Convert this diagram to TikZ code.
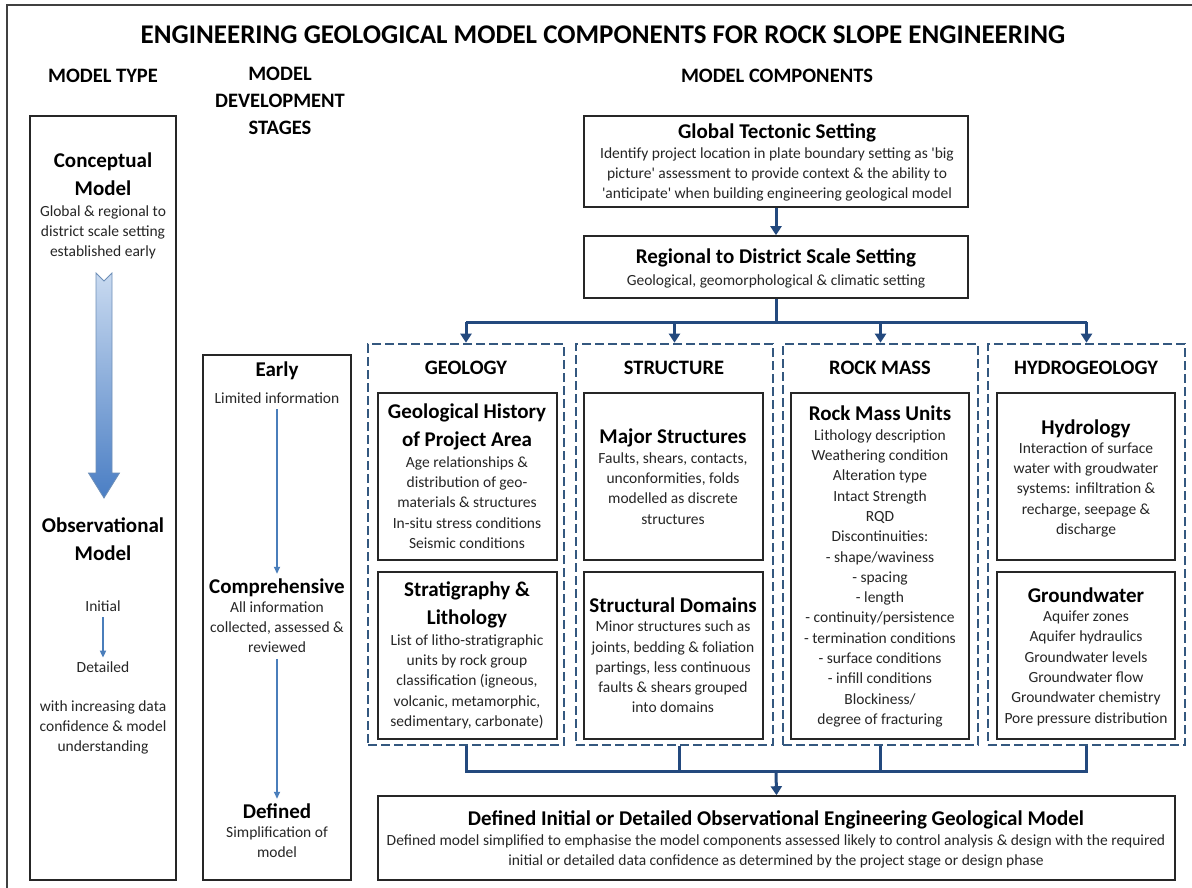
\documentclass[tikz,border=0pt]{standalone}
\usepackage{fontspec}
\setmainfont{Carlito}
\usetikzlibrary{arrows.meta}
\definecolor{conn}{HTML}{23497E}
\definecolor{dashc}{HTML}{34587F}
\definecolor{stagec}{HTML}{4A7EBB}
\definecolor{txt}{HTML}{262626}
\definecolor{atop}{HTML}{C9DAF0}
\definecolor{abot}{HTML}{4A7EC4}
\definecolor{aedge}{HTML}{6E8FB8}
\newcommand{\sq}{\textquotesingle}
\tikzset{
  bx/.style={draw=black!85, line width=1.6pt, inner sep=0pt},
  dbx/.style={draw=dashc, line width=2.6pt, dash pattern=on 9pt off 4pt, inner sep=0pt},
  hd/.style={font=\bfseries\fontsize{21}{28}\selectfont, align=center, inner sep=0pt, text=black,
    execute at begin node=\strut, execute at end node=\strut},
  bd/.style={font=\fontsize{15.5}{20.3}\selectfont, align=center, inner sep=0pt, text=txt,
    execute at begin node=\strut, execute at end node=\strut},
  captxt/.style={font=\bfseries\fontsize{20.5}{27}\selectfont, align=center, inner sep=0pt, text=black,
    execute at begin node=\strut, execute at end node=\strut},
  conline/.style={draw=conn, line width=3pt},
  conarr/.style={draw=conn, line width=3pt, -{Triangle[length=9pt,width=11pt]}},
  stagearr/.style={draw=stagec, line width=1.6pt, -{Triangle[length=7pt,width=6pt]}},
}
\begin{document}
\begin{tikzpicture}[x=1pt,y=-1pt]
\useasboundingbox (0,0) rectangle (1192,888);
\fill[white] (0,0) rectangle (1192,888);
% outer frame
\draw[black!75, line width=1.6pt] (7,888) -- (7,5) -- (1192,5);

% headers
\node[font=\bfseries\fontsize{27}{30}\selectfont, inner sep=0pt] (title) at (603,35) {ENGINEERING GEOLOGICAL MODEL COMPONENTS FOR ROCK SLOPE ENGINEERING};
\node[captxt] (mt) at (103,77) {MODEL TYPE};
\node[captxt] (mds) at (280,105) {MODEL\\DEVELOPMENT\\STAGES};
\node[captxt] (mc) at (777,77) {MODEL COMPONENTS};

% model type column
\node[bx, minimum width=146, minimum height=764] (typebox) at (103,498) {};
\node[hd] (concept) at (103,178) {Conceptual\\Model};
\node[bd] (concdesc) at (103,234) {Global \& regional to\\district scale setting\\established early};
\shade[top color=atop, bottom color=abot, draw=aedge, line width=0.8pt]
  (96,273) -- (104,281) -- (112,273) -- (112,473) -- (119.5,473) -- (104,498) -- (88.5,473) -- (96,473) -- cycle;
\node[hd] (obs) at (103,543.5) {Observational\\Model};
\node[bd] (init) at (103,607) {Initial};
\node[bd] (det) at (103,668) {Detailed};
\draw[stagearr] (init) -- (det);
\node[bd] (incr) at (103,729) {with increasing data\\confidence \& model\\understanding};

% stages column
\node[bx, minimum width=148, minimum height=525] (stagebox) at (277,617.5) {};
\node[hd] (early) at (277,371) {Early};
\node[bd] (earlyd) at (277,399) {Limited information};
\node[hd] (comp) at (277,588) {Comprehensive};
\node[bd] (compd) at (277,630) {All information\\collected, assessed \&\\reviewed};
\node[hd] (def) at (277,813) {Defined};
\node[bd] (defd) at (277,845) {Simplification of\\model};
\draw[stagearr] (earlyd) -- (comp);
\draw[stagearr] (compd) -- (def);

% global and regional
\node[bx, minimum width=384, minimum height=91] (gtbox) at (776,161.5) {};
\node[hd] (gtt) at (777,133) {Global Tectonic Setting};
\node[bd] (gtd) at (777,176) {Identify project location in plate boundary setting as \sq big\\picture\sq{} assessment to provide context \& the ability to\\\sq anticipate\sq{} when building engineering geological model};
\node[bx, minimum width=384, minimum height=62] (rdbox) at (776,267) {};
\node[hd] (rdt) at (776,258) {Regional to District Scale Setting};
\node[bd] (rdd) at (776,281) {Geological, geomorphological \& climatic setting};
\draw[conarr] (gtbox) -- (rdbox);

% dashed groups
\node[dbx, minimum width=196, minimum height=401] (geo) at (466,544.5) {};
\node[dbx, minimum width=197, minimum height=401] (str) at (674.5,544.5) {};
\node[dbx, minimum width=195, minimum height=401] (rm) at (880.5,544.5) {};
\node[dbx, minimum width=197, minimum height=401] (hyd) at (1086.5,544.5) {};
\node[captxt] (geoh) at (466,369) {GEOLOGY};
\node[captxt] (strh) at (674,369) {STRUCTURE};
\node[captxt] (rmh) at (880,369) {ROCK MASS};
\node[captxt] (hydh) at (1086,369) {HYDROGEOLOGY};

% top distribution
\coordinate (split) at (776,322);
\draw[conline] (rdbox.south) -- (split);
\draw[conline] (geo.north |- split) -- (hyd.north |- split);
\draw[conarr] (geo.north |- split) -- (geo.north);
\draw[conarr] (str.north |- split) -- (str.north);
\draw[conarr] (rm.north |- split) -- (rm.north);
\draw[conarr] (hyd.north |- split) -- (hyd.north);

% inner boxes
\node[bx, minimum width=179, minimum height=167] (gh) at (467.5,476.5) {};
\node[bx, minimum width=179, minimum height=167] (sl) at (467.5,655.5) {};
\node[bx, minimum width=179, minimum height=167] (ms) at (673.5,476.5) {};
\node[bx, minimum width=179, minimum height=167] (sd) at (673.5,655.5) {};
\node[bx, minimum width=178, minimum height=346] (rmu) at (880,566) {};
\node[bx, minimum width=178, minimum height=167] (hy) at (1086,476.5) {};
\node[bx, minimum width=178, minimum height=167] (gw) at (1086,655.5) {};

\node[hd] (ght) at (467,429) {Geological History\\of Project Area};
\node[bd] (ghd) at (467,505.5) {Age relationships \&\\distribution of geo-\\materials \& structures\\In-situ stress conditions\\Seismic conditions};
\node[hd] (slt) at (467,607.5) {Stratigraphy \&\\Lithology};
\node[bd] (sld) at (467,683.5) {List of litho-stratigraphic\\units by rock group\\classification (igneous,\\volcanic, metamorphic,\\sedimentary, carbonate)};
\node[hd] (mst) at (673,438) {Major Structures};
\node[bd] (msd) at (673,491.5) {Faults, shears, contacts,\\unconformities, folds\\modelled as discrete\\structures};
\node[hd] (sdt) at (673,607) {Structural Domains};
\node[bd] (sdd) at (673,670) {Minor structures such as\\joints, bedding \& foliation\\partings, less continuous\\faults \& shears grouped\\into domains};
\node[hd] (rmut) at (880,415) {Rock Mass Units};
\node[bd] (rmud) at (880,580) {Lithology description\\Weathering condition\\Alteration type\\Intact Strength\\RQD\\Discontinuities:\\- shape/waviness\\- spacing\\- length\\- continuity/persistence\\- termination conditions\\- surface conditions\\- infill conditions\\Blockiness/\\degree of fracturing};
\node[hd] (hyt) at (1086,429) {Hydrology};
\node[bd] (hyd2) at (1086,491.5) {Interaction of surface\\water with groudwater\\systems: infiltration \&\\recharge, seepage \&\\discharge};
\node[hd] (gwt) at (1086,597) {Groundwater};
\node[bd] (gwd) at (1086,670) {Aquifer zones\\Aquifer hydraulics\\Groundwater levels\\Groundwater flow\\Groundwater chemistry\\Pore pressure distribution};

% bottom collection
\node[bx, minimum width=797, minimum height=84] (final) at (776.5,838) {};
\node[hd] (fint) at (776,820) {Defined Initial or Detailed Observational Engineering Geological Model};
\node[bd] (find) at (776,853) {Defined model simplified to emphasise the model components assessed likely to control analysis \& design with the required\\initial or detailed data confidence as determined by the project stage or design phase};
\coordinate (join) at (776,771);
\draw[conline] (geo.south) -- (geo.south |- join) -- (hyd.south |- join) -- (hyd.south);
\draw[conline] ([xshift=5pt]str.south) -- ([xshift=5pt]str.south |- join);
\draw[conline] (rm.south) -- (rm.south |- join);
\draw[conarr] (join) -- (final.north);
\end{tikzpicture}
\end{document}
